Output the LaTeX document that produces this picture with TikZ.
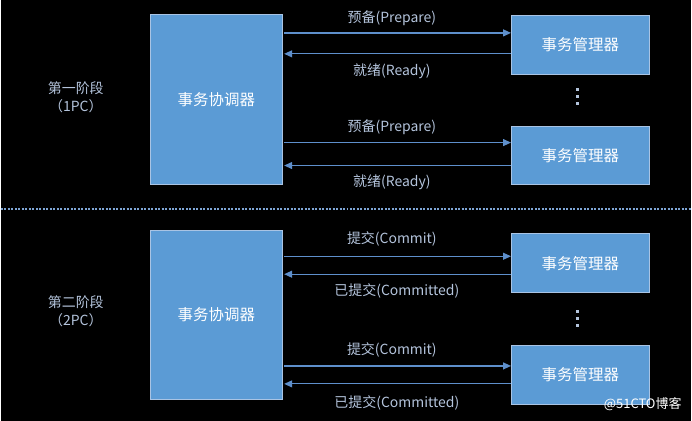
\documentclass[tikz,border=0pt]{standalone}
\usepackage{fontspec}
\setmainfont{Noto Sans CJK SC}
\usetikzlibrary{arrows.meta}
\definecolor{boxblue}{HTML}{5B9BD5}
\definecolor{boxedge}{HTML}{A9C4E4}
\definecolor{wireblue}{HTML}{5E8FCB}
\definecolor{labelgrey}{HTML}{B4C4DC}
\tikzset{
    my-coord/.style={
      draw=boxedge, fill=boxblue, line width=1pt, minimum width=132pt, minimum height=170pt,
      text=white, font=\fontsize{15.5}{18}\selectfont, inner sep=0pt
    },
    my-manager/.style={
      draw=boxedge, fill=boxblue, line width=1pt, minimum width=138pt, minimum height=59pt,
      text=white, font=\fontsize{15.5}{18}\selectfont, inner sep=0pt
    },
    my-wire/.style={
      wireblue, line width=1.2pt, -{Triangle[length=8pt,width=7pt]}
    },
    my-label/.style={
      text=labelgrey, font=\fontsize{14}{18}\selectfont, inner sep=0pt
    },
    my-dots/.style={
      fill=labelgrey, minimum size=3pt, inner sep=0pt
    },
}
\begin{document}
\begin{tikzpicture}[x=1pt,y=-1pt]
        \fill[black] (0,0) rectangle (692,422);

        % PHASE ONE
        \node[my-coord]   (COORD1) at (216,100) {事务协调器};
        \node[my-manager] (MGR1A)  at (581,45)  {事务管理器};
        \node[my-manager] (MGR1B)  at (581,156) {事务管理器};
        \coordinate (C1A) at (284,33);
        \coordinate (C1B) at (284,54);
        \coordinate (C1C) at (284,143);
        \coordinate (C1D) at (284,166);
        \draw[my-wire] (C1A) -- (C1A -| MGR1A.west);
        \draw[my-wire] (C1B -| MGR1A.west) -- (C1B);
        \draw[my-wire] (C1C) -- (C1C -| MGR1B.west);
        \draw[my-wire] (C1D -| MGR1B.west) -- (C1D);
        \node[my-label] (P1A) at (392,18)  {预备(Prepare)};
        \node[my-label] (R1A) at (392,71)  {就绪(Ready)};
        \node[my-label] (P1B) at (392,128) {预备(Prepare)};
        \node[my-label] (R1B) at (392,183) {就绪(Ready)};
        \node[my-label, align=center] (STAGE1) at (75,98) {第一阶段\\（1PC）};
        \foreach \y in {90,97,104} \node[my-dots] at (578,\y) {};

        % SEPARATOR
        \draw[wireblue!80!white, line width=2pt, dash pattern=on 2pt off 1.5pt] (0,210) -- (692,210);

        % PHASE TWO
        \node[my-coord]   (COORD2) at (216,316) {事务协调器};
        \node[my-manager] (MGR2A)  at (581,264) {事务管理器};
        \node[my-manager] (MGR2B)  at (581,376) {事务管理器};
        \coordinate (C2A) at (284,257);
        \coordinate (C2B) at (284,275);
        \coordinate (C2C) at (284,367);
        \coordinate (C2D) at (284,385);
        \draw[my-wire] (C2A) -- (C2A -| MGR2A.west);
        \draw[my-wire] (C2B -| MGR2A.west) -- (C2B);
        \draw[my-wire] (C2C) -- (C2C -| MGR2B.west);
        \draw[my-wire] (C2D -| MGR2B.west) -- (C2D);
        \node[my-label] (M2A) at (392,240) {提交(Commit)};
        \node[my-label] (D2A) at (397,292) {已提交(Committed)};
        \node[my-label] (M2B) at (392,351) {提交(Commit)};
        \node[my-label] (D2B) at (397,404) {已提交(Committed)};
        \node[my-label, align=center] (STAGE2) at (75,312) {第二阶段\\（2PC）};
        \foreach \y in {312,319,326} \node[my-dots] at (578,\y) {};

        % WATERMARK
        \node[text=white, font=\fontsize{13}{15}\selectfont, anchor=east] (MARK) at (686,405) {@51CTO博客};
\end{tikzpicture}
\end{document}
